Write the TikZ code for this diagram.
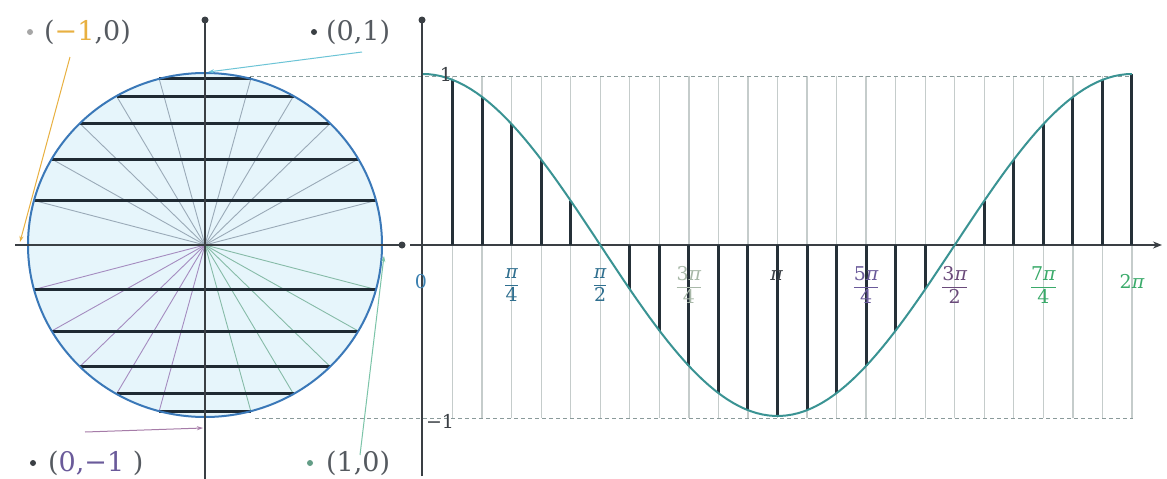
\documentclass[tikz,border=0pt]{standalone}
\usepackage{fontspec}
\newfontfamily\labfont{DejaVu Serif}
\usetikzlibrary{arrows.meta}
\definecolor{circline}{HTML}{3A78B8}
\definecolor{circfill}{HTML}{E6F5FB}
\definecolor{chordc}{HTML}{1F2A33}
\definecolor{radtop}{HTML}{9AAAB8}
\definecolor{radbl}{HTML}{A58CC0}
\definecolor{radbr}{HTML}{86BBA8}
\definecolor{axisc}{HTML}{3A3F44}
\definecolor{barc}{HTML}{253038}
\definecolor{curvec}{HTML}{3A9393}
\definecolor{gridc}{HTML}{C5CCCB}
\definecolor{dashc}{HTML}{8A9A9A}
\definecolor{labg}{HTML}{555A60}
\definecolor{orangec}{HTML}{E8B040}
\definecolor{cyanc}{HTML}{6CC4D6}
\definecolor{pinkc}{HTML}{A67CA8}
\definecolor{greenc}{HTML}{7CC4A8}
\definecolor{tbluec}{HTML}{2F6F8F}
\definecolor{tgray}{HTML}{A8B8A8}
\definecolor{tpurple}{HTML}{6A5A9A}
\definecolor{tpurple2}{HTML}{6A4A7A}
\definecolor{tgreen}{HTML}{3AAA6A}
\definecolor{zeroc}{HTML}{3A80B0}
\newcommand{\myfr}[2]{$\displaystyle\frac{\hbox{#1}}{\hbox{#2}}$}
\newcommand{\ppi}{{\itshape π}}
\begin{document}
\begin{tikzpicture}[x=1pt,y=-1pt,
  lab/.style={font=\labfont\fontsize{27}{30}\selectfont, inner sep=0pt, text=labg},
  tick/.style={font=\labfont\fontsize{19}{22}\selectfont, inner sep=0pt},
  bul/.style={circle, fill=#1, inner sep=0pt, minimum size=6pt},
  chord/.style={draw=chordc, line width=3pt},
  bar/.style={draw=barc, line width=3pt},
  gridl/.style={draw=gridc, line width=1.3pt},
  ptr/.style={line width=1pt, -{Stealth[length=6pt,width=4pt]}},
  axisl/.style={draw=axisc, line width=1.8pt}]
\useasboundingbox (0,0) rectangle (1167,479);
\fill[white] (0,0) rectangle (1167,479);
% grid verticals
\foreach \k in {1,...,24}
  \draw[gridl] ({423+\k*29.54},76) -- ({423+\k*29.54},418);
% dashed levels
\draw[dashc, line width=1pt, dash pattern=on 4pt off 3pt] (250,76) -- (1133,76);
\draw[dashc, line width=1pt, dash pattern=on 4pt off 3pt] (255,418) -- (1133,418);
% circle
\fill[circfill] (205,245) ellipse [x radius=177pt, y radius=172pt];
\foreach \a in {0,15,...,180}
  \draw[radtop, line width=0.9pt] (205,245) -- ({205+177*cos(\a)},{245-172*sin(\a)});
\foreach \a in {195,210,...,270}
  \draw[radbl, line width=0.9pt] (205,245) -- ({205+177*cos(\a)},{245-172*sin(\a)});
\foreach \a in {285,300,...,345}
  \draw[radbr, line width=0.9pt] (205,245) -- ({205+177*cos(\a)},{245-172*sin(\a)});
\foreach \a in {15,30,...,75}{
  \draw[chord] ({205-177*cos(\a)},{245-172*sin(\a)}) -- ({205+177*cos(\a)},{245-172*sin(\a)});
  \draw[chord] ({205-177*cos(\a)},{245+172*sin(\a)}) -- ({205+177*cos(\a)},{245+172*sin(\a)});
}
\draw[circline, line width=2pt] (205,245) ellipse [x radius=177pt, y radius=172pt];
% circle axes
\draw[axisl, line width=2.6pt] (15,245) -- (400,245);
\fill[axisc] (402,245) circle (3.5pt);
\draw[axisl] (205,479) -- (205,22);
\fill[axisc] (205,20) circle (3.5pt);
% graph axes
\draw[axisl, -{Stealth[length=9pt,width=7pt]}] (410,245) -- (1162,245);
\draw[axisl] (422,476) -- (422,22);
\fill[axisc] (422,20) circle (3.5pt);
% bars
\foreach \k in {1,...,24}
  \draw[bar] ({423+\k*29.54},245) -- ({423+\k*29.54},{245-171*cos(\k*15)});
% curve
\draw[curvec, line width=2pt] plot[domain=0:360, samples=120] ({423+\x*1.96944},{245-171*cos(\x)});
% axis values
\node[tick, text=axisc] (one) at (446,74) {1};
\node[tick, text=axisc] (mone) at (440,421) {−1};
\node[tick, text=zeroc] (t0) at (421,282) {0};
\node[tick, text=tbluec] (t1) at (511.6,285) {\myfr{\ppi}{4}};
\node[tick, text=tbluec] (t2) at (600.2,285) {\myfr{\ppi}{2}};
\node[tick, text=tgray] (t3) at (688.9,285) {\myfr{3\ppi}{4}};
\node[tick, text=axisc] (t4) at (776.5,276) {\ppi};
\node[tick, text=tpurple] (t5) at (866.1,285) {\myfr{5\ppi}{4}};
\node[tick, text=tpurple2] (t6) at (954.7,285) {\myfr{3\ppi}{2}};
\node[tick, text=tgreen] (t7) at (1043.4,285) {\myfr{7\ppi}{4}};
\node[tick, text=tgreen] (t8) at (1132,281) {2\ppi};
% point labels
\node[bul=gray!70] (b1) at (30,32) {};
\node[lab, anchor=west] (lm) at (44,32) {(\textcolor{orangec}{−1},0)};
\node[bul=axisc] (b2) at (314,32) {};
\node[lab, anchor=west] (l01) at (326,32) {(0,1)};
\node[bul=axisc] (b3) at (33,463) {};
\node[lab, anchor=west] (l0m) at (48,463) {(\textcolor{tpurple}{0,−1} )};
\node[bul=greenc!80!black] (b4) at (310,463) {};
\node[lab, anchor=west] (l10) at (326,463) {(1,0)};
% pointers
\coordinate (p1s) at (70,57);
\coordinate (p1e) at (20,242);
\coordinate (p2s) at (362,52);
\coordinate (p2e) at (208,72);
\coordinate (p3s) at (85,432);
\coordinate (p3e) at (203,428);
\coordinate (p4s) at (360,455);
\coordinate (p4e) at (384,256);
\draw[ptr, orangec] (p1s) -- (p1e);
\draw[ptr, cyanc] (p2s) -- (p2e);
\draw[ptr, pinkc] (p3s) -- (p3e);
\draw[ptr, greenc] (p4s) -- (p4e);
\end{tikzpicture}
\end{document}
